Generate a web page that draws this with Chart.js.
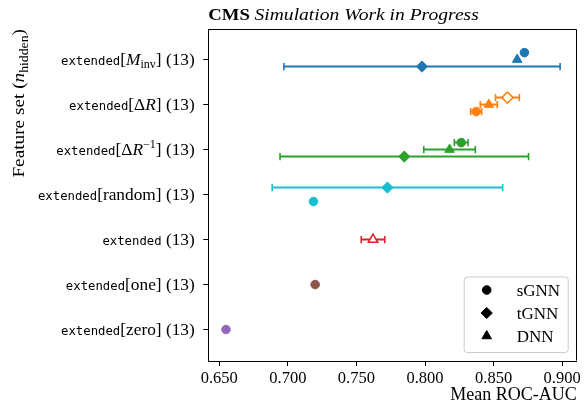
<!DOCTYPE html>
<html>
<head>
<meta charset="utf-8">
<script src="https://cdn.jsdelivr.net/npm/chart.js@4.4.1/dist/chart.umd.min.js"></script>
<style>
  html, body { margin: 0; padding: 0; background: #fff; }
  #wrap { width: 584px; height: 404px; }
</style>
</head>
<body>
<div id="wrap"><canvas id="rocChart" width="584" height="404"></canvas></div>
<script>
// feature sets, top to bottom; each label is a list of [style, text] pieces
const featureLabels = [
  [["tt", "extended"], ["rm", "["], ["it", "M"], ["sub", "inv"], ["rm", "] (13)"]],
  [["tt", "extended"], ["rm", "[\u0394"], ["it", "R"], ["rm", "] (13)"]],
  [["tt", "extended"], ["rm", "[\u0394"], ["it", "R"], ["sup", "\u22121"], ["rm", "] (13)"]],
  [["tt", "extended"], ["rm", "[random] (13)"]],
  [["tt", "extended"], ["rm", " (13)"]],
  [["tt", "extended"], ["rm", "[one] (13)"]],
  [["tt", "extended"], ["rm", "[zero] (13)"]],
];
const featureColors = ["#1f77b4", "#ff7f0e", "#2ca02c", "#17becf", "#d62728", "#8c564b", "#9467bd"];

// mean ROC-AUC and spread per feature set (null = model not run)
const sgnnMean = [0.8725, 0.8373, 0.8264, 0.7187, null, 0.7199, 0.6549];
const sgnnErr = [0, 0.0040, 0.0050, 0, null, 0, 0];
const tgnnMean = [0.7978, 0.8601, 0.7849, 0.7726, null, null, null];
const tgnnErr = [0.1007, 0.0087, 0.0906, 0.0840, null, null, null];
const dnnMean = [0.8672, 0.8465, 0.8179, null, 0.7621, null, null];
const dnnErr = [0, 0.0062, 0.0188, null, 0.0086, null, null];

const xTicks = [0.65, 0.70, 0.75, 0.80, 0.85, 0.90];

const titleParts = [["bf", "CMS"], ["rm", " "], ["it", "Simulation Work in Progress"]];
const yTitleParts = [["rm", "Feature set ("], ["it", "n"], ["sub", "hidden"], ["rm", ")"]];

const models = [
  { label: "sGNN", style: "circle", radius: 4.3, mean: sgnnMean, err: sgnnErr, hollow: [] },
  { label: "tGNN", style: "rectRot", radius: 5.6, mean: tgnnMean, err: tgnnErr, hollow: [1] },
  { label: "DNN", style: "triangle", radius: 5.5, mean: dnnMean, err: dnnErr, hollow: [4] },
];

const SPREAD = 0.155;

// markers of one row are spread vertically, best score on top
function rowOffset(modelIndex, row) {
  const present = models
    .map((m, k) => ({ k: k, v: m.mean[row] }))
    .filter((p) => p.v != null)
    .sort((a, b) => b.v - a.v);
  if (present.length < 2) return 0;
  const rank = present.findIndex((p) => p.k === modelIndex);
  return -SPREAD + (rank * 2 * SPREAD) / (present.length - 1);
}

const markerSets = [];
const errorSets = [];
models.forEach((m, k) => {
  const points = [], fills = [], widths = [], edges = [];
  m.mean.forEach((v, row) => {
    if (v == null) return;
    const y = row + rowOffset(k, row);
    const hollow = m.hollow.includes(row);
    points.push({ x: v, y: y });
    fills.push(hollow ? "#ffffff" : featureColors[row]);
    edges.push(featureColors[row]);
    widths.push(hollow ? 1.5 : 1);
    if (m.err[row] > 0) {
      errorSets.push({
        label: m.label + " err",
        data: [{ x: v - m.err[row], y: y }, { x: v + m.err[row], y: y }],
        showLine: true,
        borderColor: featureColors[row],
        borderWidth: 2,
        pointStyle: "line",
        pointRotation: 90,
        pointRadius: 3.6,
        pointBorderColor: featureColors[row],
        pointBorderWidth: 1.6,
        order: 1,
      });
    }
  });
  markerSets.push({
    label: m.label,
    legendEntry: true,
    data: points,
    pointStyle: m.style,
    pointRadius: m.radius,
    pointBackgroundColor: fills,
    pointBorderColor: edges,
    pointBorderWidth: widths,
    order: 0,
  });
});

const labelFonts = {
  tt: { font: '12.3px "DejaVu Sans Mono"', sx: 1 },
  rm: { font: '16.5px "Liberation Serif"', sx: 1.05 },
  it: { font: 'italic 16.5px "Liberation Serif"', sx: 1.05 },
  sub: { font: '11.5px "Liberation Serif"', sx: 1.05, dy: 3.5 },
  sup: { font: '11.5px "Liberation Serif"', sx: 1.05, dy: -6.5 },
};
const titleFonts = {
  bf: { font: 'bold 17px "Liberation Serif"', sx: 1.1 },
  rm: { font: '17px "Liberation Serif"', sx: 1.1 },
  it: { font: 'italic 17px "Liberation Serif"', sx: 1.15 },
};
const yTitleFonts = {
  rm: { font: '17.5px "Liberation Serif"', sx: 1.1 },
  it: { font: 'italic 17.5px "Liberation Serif"', sx: 1.1 },
  sub: { font: '12.5px "Liberation Serif"', sx: 1.1, dy: 3.5 },
};

function drawRich(ctx, parts, fonts, x, y, align) {
  let width = 0;
  parts.forEach(([kind, text]) => {
    ctx.font = fonts[kind].font;
    width += ctx.measureText(text).width * fonts[kind].sx;
  });
  let cx = align === "right" ? x - width : x;
  ctx.textAlign = "left";
  parts.forEach(([kind, text]) => {
    const f = fonts[kind];
    ctx.font = f.font;
    ctx.save();
    ctx.translate(cx, y + (f.dy || 0));
    ctx.scale(f.sx, 1);
    ctx.fillText(text, 0, 0);
    ctx.restore();
    cx += ctx.measureText(text).width * f.sx;
  });
}

const richText = {
  id: "richText",
  afterDraw(chart) {
    const { ctx, chartArea, scales } = chart;
    ctx.save();
    ctx.fillStyle = "#000";
    ctx.textBaseline = "alphabetic";
    featureLabels.forEach((parts, i) => {
      drawRich(ctx, parts, labelFonts, chartArea.left - 13.5, scales.y.getPixelForValue(i) + 5, "right");
    });
    drawRich(ctx, titleParts, titleFonts, chartArea.left, 19.5, "left");
    ctx.translate(24, chartArea.top);
    ctx.rotate(-Math.PI / 2);
    drawRich(ctx, yTitleParts, yTitleFonts, 0, 0, "right");
    ctx.restore();
  },
};

// top and right spines
const frame = {
  id: "frame",
  afterDraw(chart) {
    const { ctx, chartArea } = chart;
    const l = Math.round(chartArea.left) + 0.5, r = Math.round(chartArea.right) - 0.5;
    const t = Math.round(chartArea.top) + 0.5, b = Math.round(chartArea.bottom) - 0.5;
    ctx.save();
    ctx.strokeStyle = "#000";
    ctx.lineWidth = 1;
    ctx.beginPath();
    ctx.moveTo(l, t);
    ctx.lineTo(r, t);
    ctx.lineTo(r, b);
    ctx.stroke();
    ctx.restore();
  },
};

// matplotlib style legend box in the lower right corner
const boxLegend = {
  id: "boxLegend",
  afterDraw(chart) {
    const { ctx, chartArea } = chart;
    const items = chart.data.datasets.filter((d) => d.legendEntry);
    const w = 104, h = 75.5;
    const x = chartArea.right - 8.5 - w, y = chartArea.bottom - 8.5 - h;
    ctx.save();
    ctx.beginPath();
    ctx.roundRect(x, y, w, h, 3);
    ctx.fillStyle = "rgba(255,255,255,0.8)";
    ctx.fill();
    ctx.strokeStyle = "#cccccc";
    ctx.lineWidth = 1;
    ctx.stroke();
    items.forEach((d, i) => {
      const cy = y + 13 + i * 23;
      ctx.fillStyle = "#000";
      ctx.strokeStyle = "#000";
      Chart.helpers.drawPoint(ctx, { pointStyle: d.pointStyle, rotation: 0, radius: d.pointRadius, borderWidth: 1 }, x + 22.5, cy);
      ctx.font = '17px "Liberation Serif"';
      ctx.textAlign = "left";
      ctx.textBaseline = "alphabetic";
      ctx.fillText(d.label, x + 52.5, cy + 6);
    });
    ctx.restore();
  },
};

const axisGrid = {
  display: true,
  drawOnChartArea: false,
  drawTicks: true,
  tickLength: 5,
  color: "#000",
  lineWidth: 1,
};

new Chart(document.getElementById("rocChart").getContext("2d"), {
  type: "scatter",
  data: { datasets: markerSets.concat(errorSets) },
  options: {
    responsive: false,
    animation: false,
    events: [],
    layout: { padding: { top: 29, right: 6.7, left: 0, bottom: 0 } },
    plugins: {
      legend: { display: false },
      tooltip: { enabled: false },
    },
    scales: {
      x: {
        type: "linear",
        min: 0.642,
        max: 0.9106,
        afterBuildTicks: (s) => { s.ticks = xTicks.map((v) => ({ value: v })); },
        afterFit: (s) => { s.height = 43; },
        grid: axisGrid,
        border: { display: true, color: "#000", width: 1 },
        ticks: {
          color: "#000",
          font: { family: "Liberation Serif", size: 16.5 },
          padding: 3,
          maxRotation: 0,
          callback: (v) => Number(v).toFixed(3),
        },
        title: {
          display: true,
          text: "Mean ROC-AUC",
          align: "end",
          color: "#000",
          font: { family: "Liberation Serif", size: 18, lineHeight: 1 },
          padding: 0,
        },
      },
      y: {
        type: "linear",
        reverse: true,
        min: -0.68,
        max: 6.7,
        afterBuildTicks: (s) => { s.ticks = featureLabels.map((_, i) => ({ value: i })); },
        afterFit: (s) => { s.width = 208.3; },
        grid: axisGrid,
        border: { display: true, color: "#000", width: 1 },
        ticks: { display: false },
      },
    },
  },
  plugins: [richText, frame, boxLegend],
});
</script>
</body>
</html>
